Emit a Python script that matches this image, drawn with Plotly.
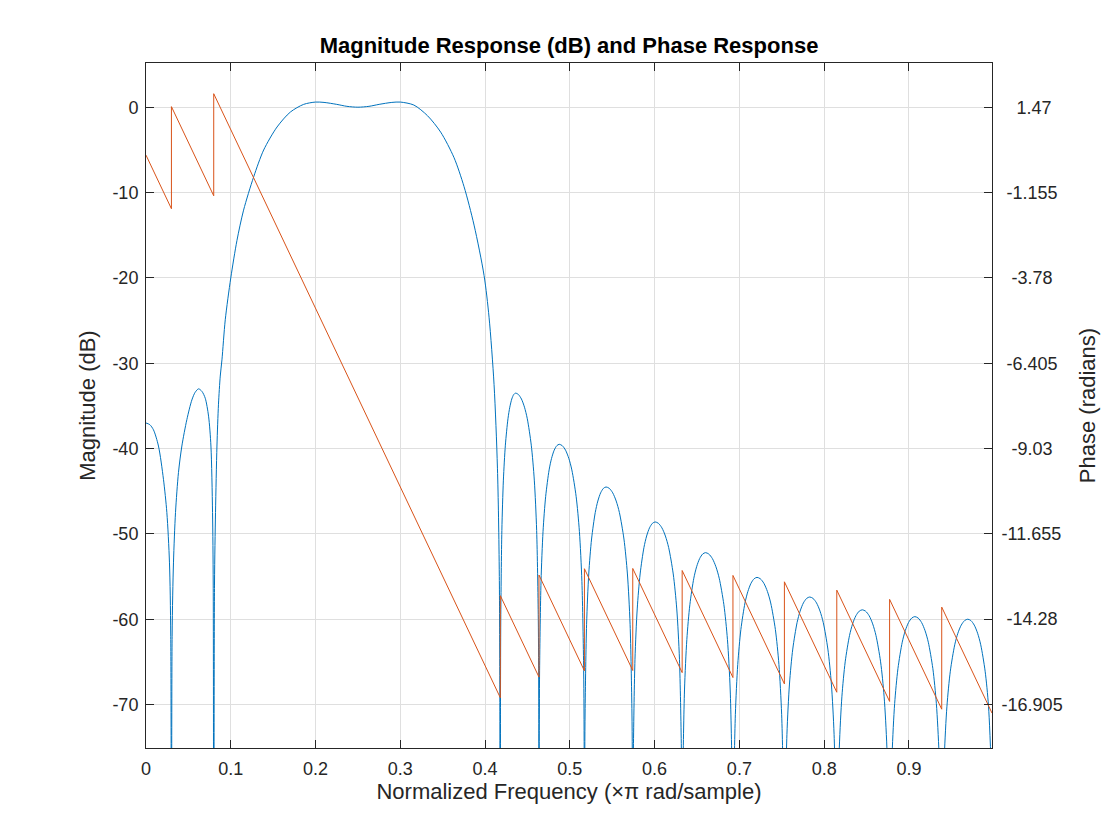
import plotly.graph_objects as go

# ---------------- Magnitude response (dB) ----------------
# low stopband lobes, transition bands and passband
freq_pass = [
    0.0000, 0.0045, 0.0088, 0.0147, 0.0206, 0.0246, 0.0277, 0.0292, 0.0300,
    0.0308, 0.0324, 0.0348, 0.0383, 0.0423, 0.0482, 0.0541, 0.0580, 0.0620,
    0.0660, 0.0699, 0.0738, 0.0766, 0.0785, 0.0793, 0.0799,
    0.0808, 0.0820, 0.0837, 0.0855, 0.0876, 0.0896, 0.0935, 0.1000, 0.1073,
    0.1151, 0.1270, 0.1388, 0.1546, 0.1703, 0.1860, 0.2000, 0.2100, 0.2250,
    0.2370, 0.2500, 0.2630, 0.2750, 0.2900, 0.3000, 0.3160, 0.3320, 0.3476,
    0.3634, 0.3752, 0.3870, 0.3988, 0.4047, 0.4106, 0.4146, 0.4168, 0.4180,
]
mag_pass = [
    -37.0, -37.2, -37.8, -39.7, -43.6, -47.5, -53.4, -62.0, -110.0,
    -62.0, -53.4, -47.5, -42.8, -39.7, -36.6, -34.3, -33.4, -33.0,
    -33.3, -34.1, -36.2, -39.7, -47.5, -56.0, -110.0,
    -56.0, -47.5, -39.7, -34.8, -31.5, -29.6, -24.9, -20.0, -15.6,
    -12.05, -8.15, -5.0, -2.3, -0.55, 0.35, 0.62, 0.58, 0.35,
    0.12, 0.02, 0.12, 0.35, 0.58, 0.62, 0.27, -0.97, -2.9,
    -5.9, -9.3, -13.8, -19.7, -24.6, -32.5, -42.3, -55.0, -110.0,
]
# upper stopband sidelobes
freq_lobes_a = [
    0.41818, 0.41854, 0.41980, 0.42160, 0.42394, 0.42700, 0.42916, 0.43150, 0.43384, 0.43600,
    0.43931, 0.44290, 0.44649, 0.44980, 0.45449, 0.45808, 0.46084, 0.46277, 0.46332, 0.46360,
    0.46384, 0.46432, 0.46599, 0.46838, 0.47149, 0.47555, 0.47842, 0.48153, 0.48463, 0.48750,
    0.49106, 0.49493, 0.49879, 0.50235, 0.50740, 0.51126, 0.51423, 0.51631, 0.51690, 0.51720,
    0.51746, 0.51797, 0.51975, 0.52230, 0.52562, 0.52995, 0.53301, 0.53633, 0.53964, 0.54270,
    0.54648, 0.55058, 0.55467, 0.55845, 0.56381, 0.56790, 0.57105, 0.57326, 0.57389, 0.57420,
    0.57446, 0.57499, 0.57684, 0.57948, 0.58291, 0.58740, 0.59057, 0.59400, 0.59743, 0.60060,
    0.60443, 0.60858, 0.61272, 0.61655, 0.62197, 0.62612, 0.62931, 0.63154, 0.63218, 0.63250,
    0.63278, 0.63333, 0.63525, 0.63800, 0.64158, 0.64625, 0.64955, 0.65313, 0.65670, 0.66000,
    0.66389, 0.66810, 0.67231, 0.67620, 0.68171, 0.68592, 0.68916, 0.69143, 0.69208, 0.69240,
]
mag_lobes_a = [
    -69.6, -60.0, -49.6, -43.7, -39.6, -36.5, -35.15, -34.19, -33.66, -33.5,
    -33.66, -34.19, -35.15, -36.5, -39.6, -43.7, -49.6, -60.0, -69.6, -110.0,
    -75.6, -66.0, -55.6, -49.7, -45.6, -42.5, -41.15, -40.19, -39.66, -39.5,
    -39.66, -40.19, -41.15, -42.5, -45.6, -49.7, -55.6, -66.0, -75.6, -110.0,
    -80.6, -71.0, -60.6, -54.7, -50.6, -47.5, -46.15, -45.19, -44.66, -44.5,
    -44.66, -45.19, -46.15, -47.5, -50.6, -54.7, -60.6, -71.0, -80.6, -110.0,
    -84.7, -75.1, -64.7, -58.8, -54.7, -51.6, -50.25, -49.29, -48.76, -48.6,
    -48.76, -49.29, -50.25, -51.6, -54.7, -58.8, -64.7, -75.1, -84.7, -110.0,
    -88.3, -78.7, -68.3, -62.4, -58.3, -55.2, -53.85, -52.89, -52.36, -52.2,
    -52.36, -52.89, -53.85, -55.2, -58.3, -62.4, -68.3, -78.7, -88.3, -110.0,
]
freq_lobes_b = [
    0.69268, 0.69325, 0.69524, 0.69808, 0.70177, 0.70660, 0.71001, 0.71370, 0.71739, 0.72080,
    0.72468, 0.72888, 0.73307, 0.73695, 0.74244, 0.74664, 0.74987, 0.75213, 0.75278, 0.75310,
    0.75340, 0.75400, 0.75609, 0.75908, 0.76297, 0.76805, 0.77164, 0.77553, 0.77941, 0.78300,
    0.78683, 0.79098, 0.79512, 0.79895, 0.80437, 0.80852, 0.81171, 0.81394, 0.81458, 0.81490,
    0.81520, 0.81580, 0.81791, 0.82092, 0.82483, 0.82995, 0.83356, 0.83748, 0.84139, 0.84500,
    0.84886, 0.85305, 0.85724, 0.86110, 0.86657, 0.87076, 0.87398, 0.87623, 0.87688, 0.87720,
    0.87750, 0.87809, 0.88018, 0.88316, 0.88703, 0.89210, 0.89568, 0.89955, 0.90342, 0.90700,
    0.91080, 0.91493, 0.91905, 0.92285, 0.92824, 0.93236, 0.93553, 0.93775, 0.93838, 0.93870,
    0.93901, 0.93962, 0.94177, 0.94484, 0.94883, 0.95405, 0.95773, 0.96173, 0.96572, 0.96940,
    0.97307, 0.97705, 0.98103, 0.98470, 0.98990, 0.99388, 0.99800,
]
mag_lobes_b = [
    -91.2, -81.6, -71.2, -65.3, -61.2, -58.1, -56.75, -55.79, -55.26, -55.1,
    -55.26, -55.79, -56.75, -58.1, -61.2, -65.3, -71.2, -81.6, -91.2, -110.0,
    -93.5, -83.9, -73.5, -67.6, -63.5, -60.4, -59.05, -58.09, -57.56, -57.4,
    -57.56, -58.09, -59.05, -60.4, -63.5, -67.6, -73.5, -83.9, -93.5, -110.0,
    -95.0, -85.4, -75.0, -69.1, -65.0, -61.9, -60.55, -59.59, -59.06, -58.9,
    -59.06, -59.59, -60.55, -61.9, -65.0, -69.1, -75.0, -85.4, -95.0, -110.0,
    -95.8, -86.2, -75.8, -69.9, -65.8, -62.7, -61.35, -60.39, -59.86, -59.7,
    -59.86, -60.39, -61.35, -62.7, -65.8, -69.9, -75.8, -86.2, -95.8, -110.0,
    -96.1, -86.5, -76.1, -70.2, -66.1, -63.0, -61.65, -60.69, -60.16, -60.0,
    -60.16, -60.69, -61.65, -63.0, -66.1, -70.2, -79.8,
]

# ---------------- Phase response (radians): vertices of the wrapped sawtooth ----------------
freq_phase = [
    0.0000, 0.0300, 0.0300, 0.0799, 0.0799, 0.4180, 0.4180, 0.4636, 0.4636,
    0.5172, 0.5172, 0.5742, 0.5742, 0.6325, 0.6325, 0.6924, 0.6924, 0.7531,
    0.7531, 0.8149, 0.8149, 0.8772, 0.8772, 0.9387, 0.9387, 0.9980,
]
phase_rad = [
    0.000, -1.649, 1.492, -1.251, 1.890, -16.698, -13.556, -16.063, -12.922,
    -15.869, -12.727, -15.860, -12.719, -15.924, -12.782, -16.076, -12.934, -16.271,
    -13.130, -16.528, -13.386, -16.811, -13.670, -17.050, -13.909, -17.169,
]

# ---------------- Ticks ----------------
x_ticks = [0, 0.1, 0.2, 0.3, 0.4, 0.5, 0.6, 0.7, 0.8, 0.9]
x_labels = ["0", "0.1", "0.2", "0.3", "0.4", "0.5", "0.6", "0.7", "0.8", "0.9"]
mag_ticks = [-70, -60, -50, -40, -30, -20, -10, 0]
mag_labels = ["-70", "-60", "-50", "-40", "-30", "-20", "-10", "0"]
phase_ticks = [1.47, -1.155, -3.78, -6.405, -9.03, -11.655, -14.28, -16.905]
phase_labels = ["1.47", "-1.155", "-3.78", "-6.405", "-9.03", "-11.655", "-14.28", "-16.905"]
phase_pad = [3, 1, 2, 1, 2, 0, 1, 0]

freq_mag = freq_pass + freq_lobes_a + freq_lobes_b
mag_db = mag_pass + mag_lobes_a + mag_lobes_b

FONT = "Liberation Sans, Arial, Helvetica, sans-serif"
AX = "#262626"
GRID = "#dfdfdf"

fig = go.Figure()
fig.add_trace(go.Scatter(x=freq_mag, y=mag_db, mode="lines",
                         line=dict(color="#0072BD", width=1, shape="spline",
                                   smoothing=0.8),
                         yaxis="y", showlegend=False))
fig.add_trace(go.Scatter(x=freq_phase, y=phase_rad, mode="lines",
                         line=dict(color="#D95319", width=1), yaxis="y2",
                         showlegend=False))

fig.update_layout(
    width=1112, height=832,
    paper_bgcolor="white", plot_bgcolor="white",
    margin=dict(l=138, r=128, t=55, b=92, autoexpand=False),
    font=dict(family=FONT, size=18, color=AX),
    title=dict(text="<b>Magnitude Response (dB) and Phase Response</b>",
               font=dict(family=FONT, size=22, color="black"),
               x=0.5, xref="paper", xanchor="center",
               y=1, yref="paper", yanchor="bottom", pad=dict(b=10)),
    xaxis=dict(range=[0, 0.998], tickvals=x_ticks, ticktext=x_labels,
               ticks="inside", ticklen=8, tickcolor=AX, tickwidth=1,
               showline=True, linecolor=AX, linewidth=1, mirror="ticks",
               showgrid=True, gridcolor=GRID, gridwidth=1, zeroline=False,
               tickfont=dict(size=18, color=AX), ticklabelstandoff=4,
               title=dict(text="Normalized Frequency (×π rad/sample)",
                          font=dict(size=22, color=AX), standoff=6)),
    yaxis=dict(range=[-75.1, 5.2], tickvals=mag_ticks, ticktext=mag_labels,
               ticks="inside", ticklen=8, tickcolor=AX, tickwidth=1,
               showline=True, linecolor=AX, linewidth=1, mirror=True,
               showgrid=True, gridcolor=GRID, gridwidth=1, zeroline=False,
               tickfont=dict(size=18, color=AX), ticklabelstandoff=3,
               title=dict(text="Magnitude (dB)", font=dict(size=22, color=AX),
                          standoff=10)),
    yaxis2=dict(overlaying="y", side="right", anchor="x",
                range=[-18.244, 2.835], tickvals=phase_ticks,
                ticktext=["\u00a0" * p + t for p, t in zip(phase_pad, phase_labels)],
                ticks="inside", ticklen=8, tickcolor=AX, tickwidth=1,
                showline=True, linecolor=AX, linewidth=1,
                showgrid=False, zeroline=False,
                tickfont=dict(size=18, color=AX), ticklabelstandoff=5,
                title=dict(text="Phase (radians)", font=dict(size=22, color=AX),
                           standoff=17)),
)

fig.write_html("out.html")
